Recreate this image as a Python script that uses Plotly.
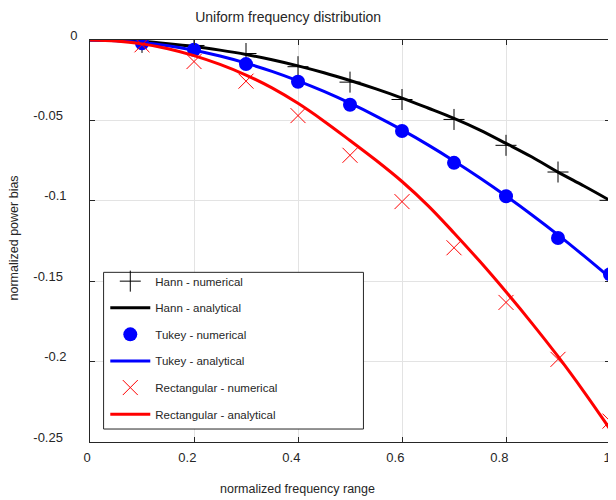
import plotly.graph_objects as go

# ---- data ----
x_num = [0.1, 0.2, 0.3, 0.4, 0.5, 0.6, 0.7, 0.8, 0.9, 1.0]
hann_num = [-0.0015, -0.0034, -0.0084, -0.0166, -0.0262, -0.0370, -0.0494, -0.0655, -0.0821, -0.0997]
tukey_num = [-0.0020, -0.0061, -0.0150, -0.0260, -0.0403, -0.0566, -0.0764, -0.0972, -0.1231, -0.1457]
rect_num = [-0.0030, -0.0134, -0.0256, -0.0470, -0.0717, -0.1005, -0.1292, -0.1632, -0.1986, -0.2370]

x_ana = [0.0, 0.05, 0.1, 0.15, 0.2, 0.25, 0.3, 0.35, 0.4, 0.45, 0.5,
         0.55, 0.6, 0.65, 0.7, 0.75, 0.8, 0.85, 0.9, 0.95, 1.0]
hann_ana = [0.0, -0.0003, -0.0010, -0.0023, -0.0040, -0.0063, -0.0090, -0.0123, -0.0161, -0.0204, -0.0252,
            -0.0304, -0.0361, -0.0423, -0.0487, -0.0560, -0.0643, -0.0728, -0.0822, -0.0908, -0.0998]
tukey_ana = [0.0, -0.0004, -0.0016, -0.0036, -0.0064, -0.0100, -0.0144, -0.0195, -0.0254, -0.0320, -0.0393,
             -0.0473, -0.0559, -0.0652, -0.0752, -0.0858, -0.0970, -0.1088, -0.1212, -0.1343, -0.1478]
rect_ana = [0.0, -0.0006, -0.0024, -0.0054, -0.0097, -0.0152, -0.0218, -0.0298, -0.0394, -0.0505, -0.0625,
            -0.0748, -0.0880, -0.1030, -0.1200, -0.1378, -0.1566, -0.1762, -0.1968, -0.2188, -0.2420]

x_tickvals = [0, 0.2, 0.4, 0.6, 0.8, 1]
x_ticktext = ["0", "0.2\u00a0\u00a0", "0.4\u00a0\u00a0", "0.6\u00a0\u00a0", "0.8\u00a0\u00a0", "1"]
y_tickvals = [0, -0.05, -0.1, -0.15, -0.2, -0.25]
y_ticktext = ["0",
              "-0.05\u00a0\u00a0\u00a0\u00a0",
              "-0.1\u00a0\u00a0\u00a0",
              "-0.15\u00a0\u00a0\u00a0\u00a0",
              "-0.2\u00a0\u00a0\u00a0",
              "-0.25\u00a0\u00a0\u00a0\u00a0"]

FONT = "Liberation Sans, Arial, Helvetica, sans-serif"
TXT = "#262626"

# page body has an 8px margin: figure pixel = screen pixel - 8
OFF = 8
W, H = 616 - OFF, 500 - OFF
L, R, T, B = 89.7, 610.0, 39.5, 442.3  # plot area in screen pixels


def px(X):
    return (X - L) / (R - L)


def py(Y):
    return (B - Y) / (B - T)


fig = go.Figure()

fig.add_trace(go.Scatter(x=x_num, y=hann_num, mode="markers", name="Hann - numerical",
                         legendgroup="g1",
                         marker=dict(symbol="cross-thin", size=15, color="#000000",
                                     line=dict(color="#000000", width=1))))
fig.add_trace(go.Scatter(x=x_ana, y=hann_ana, mode="lines", name="Hann - analytical",
                         legendgroup="g2",
                         line=dict(color="#000000", width=3, shape="spline")))
fig.add_trace(go.Scatter(x=x_num, y=tukey_num, mode="markers", name="Tukey - numerical",
                         legendgroup="g3",
                         marker=dict(symbol="circle", size=14, color="#0000ff",
                                     line=dict(width=0))))
fig.add_trace(go.Scatter(x=x_ana, y=tukey_ana, mode="lines", name="Tukey - analytical",
                         legendgroup="g4",
                         line=dict(color="#0000ff", width=3, shape="spline")))
fig.add_trace(go.Scatter(x=x_num, y=rect_num, mode="markers", name="Rectangular - numerical",
                         legendgroup="g5",
                         marker=dict(symbol="x-thin", size=15, color="#ff0000",
                                     line=dict(color="#ff0000", width=1))))
fig.add_trace(go.Scatter(x=x_ana, y=rect_ana, mode="lines", name="Rectangular - analytical",
                         legendgroup="g6",
                         line=dict(color="#ff0000", width=3, shape="spline")))

axis_common = dict(
    showline=True, linecolor=TXT, linewidth=1, mirror="ticks",
    ticks="inside", ticklen=5, tickwidth=1, tickcolor=TXT,
    showgrid=True, gridcolor="#e3e3e3", gridwidth=1, zeroline=False,
    tickfont=dict(family=FONT, size=13, color=TXT),
    tickmode="array", automargin=False,
)

fig.update_layout(
    width=W, height=H,
    margin=dict(l=L - OFF, r=(616 - OFF) - (R - OFF), t=T - OFF, b=(500 - OFF) - (B - OFF), pad=0),
    paper_bgcolor="white", plot_bgcolor="white",
    font=dict(family=FONT, color=TXT),
    title=dict(text="Uniform frequency distribution", x=px(288), xref="paper",
               xanchor="center", y=1 - (17 - OFF) / H, yref="container", yanchor="middle",
               font=dict(family=FONT, size=14, color=TXT)),
    xaxis=dict(range=[0, 1], tickvals=x_tickvals, ticktext=x_ticktext,
               ticklabelshift=-3, ticklabelstandoff=3, **axis_common),
    yaxis=dict(range=[-0.25, 0], tickvals=y_tickvals, ticktext=y_ticktext,
               ticklabelshift=-5, ticklabelstandoff=9, **axis_common),
    showlegend=True,
    legend=dict(x=px(105), y=py(266.6), xanchor="left", yanchor="top",
                bgcolor="rgba(0,0,0,0)", borderwidth=0, itemwidth=40,
                tracegroupgap=7.6, traceorder="grouped",
                font=dict(family=FONT, size=11.5, color=TXT)),
    shapes=[dict(type="rect", xref="paper", yref="paper", layer="above",
                 x0=px(103.3), x1=px(363.3), y0=py(429.3), y1=py(272.3),
                 line=dict(color=TXT, width=1), fillcolor="white")],
    annotations=[
        dict(text="normalized frequency range", xref="paper", yref="paper",
             x=px(297), y=py(489.5), xanchor="center", yanchor="middle",
             showarrow=False, font=dict(family=FONT, size=12.5, color=TXT)),
        dict(text="normalized power bias", xref="paper", yref="paper",
             x=px(14), y=py(238), xanchor="center", yanchor="middle",
             textangle=-90, showarrow=False, font=dict(family=FONT, size=12.5, color=TXT)),
    ],
)

fig.write_html("out.html")
